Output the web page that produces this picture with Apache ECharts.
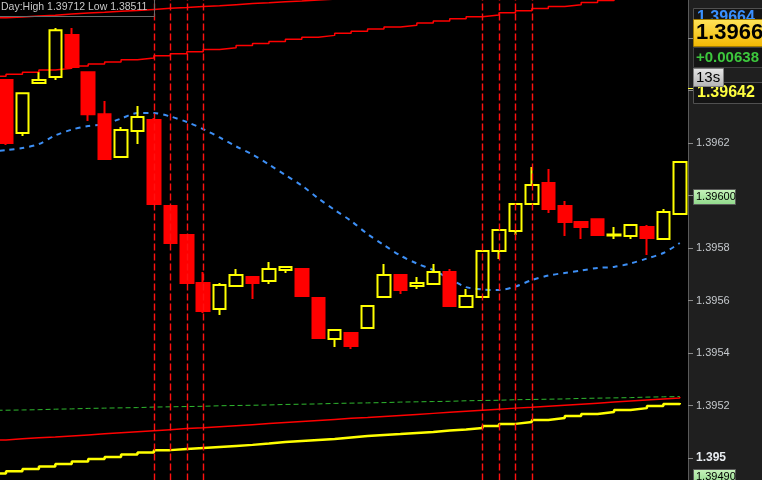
<!DOCTYPE html>
<html><head><meta charset="utf-8">
<script src="https://cdn.jsdelivr.net/npm/echarts@6/dist/echarts.min.js"></script>
<style>html,body{margin:0;padding:0;background:#1f1f1f}#c{width:762px;height:480px}</style>
</head><body><div id="c"></div>
<script>
// bar ids (first one is the bar just left of the visible area)
const categories = ['0','1','2','3','4','5','6','7','8','9','10','11','12','13','14','15','16','17','18','19','20','21','22','23','24','25','26','27','28','29','30','31','32','33','34','35','36','37','38','39','40','41','42'];

// [open, close, low, high]
const candleOHLC = [
 '-',
 [1.396440,1.396200,1.396192,1.396444],
 [1.396238,1.396390,1.396227,1.396390],
 [1.396429,1.396440,1.396429,1.396470],
 [1.396451,1.396630,1.396440,1.396638],
 [1.396611,1.396490,1.396486,1.396638],
 [1.396470,1.396310,1.396284,1.396470],
 [1.396310,1.396139,1.396135,1.396360],
 [1.396147,1.396250,1.396147,1.396261],
 [1.396246,1.396299,1.396196,1.396341],
 [1.396288,1.395968,1.395964,1.396295],
 [1.395960,1.395819,1.395819,1.395960],
 [1.395850,1.395667,1.395667,1.395850],
 [1.395667,1.395560,1.395552,1.395709],
 [1.395568,1.395659,1.395545,1.395667],
 [1.395655,1.395697,1.395655,1.395720],
 [1.395690,1.395667,1.395606,1.395690],
 [1.395674,1.395720,1.395663,1.395747],
 [1.395716,1.395728,1.395705,1.395728],
 [1.395720,1.395617,1.395617,1.395720],
 [1.395610,1.395457,1.395457,1.395610],
 [1.395453,1.395488,1.395423,1.395488],
 [1.395476,1.395427,1.395415,1.395476],
 [1.395495,1.395579,1.395495,1.395579],
 [1.395613,1.395697,1.395613,1.395739],
 [1.395697,1.395640,1.395625,1.395697],
 [1.395655,1.395667,1.395644,1.395690],
 [1.395663,1.395709,1.395663,1.395739],
 [1.395709,1.395579,1.395579,1.395720],
 [1.395575,1.395617,1.395575,1.395644],
 [1.395613,1.395789,1.395613,1.395789],
 [1.395789,1.395869,1.395758,1.395869],
 [1.395865,1.395968,1.395850,1.395968],
 [1.395968,1.396040,1.395968,1.396109],
 [1.396048,1.395949,1.395933,1.396101],
 [1.395960,1.395899,1.395846,1.395979],
 [1.395899,1.395880,1.395834,1.395899],
 [1.395910,1.395850,1.395850,1.395910],
 [1.395848,1.395851,1.395834,1.395880],
 [1.395846,1.395888,1.395834,1.395888],
 [1.395880,1.395838,1.395773,1.395888],
 [1.395834,1.395937,1.395834,1.395949],
 [1.395930,1.396128,1.395930,1.396128]
];

// short moving average (blue dashed)
const maShort = [1.396166,1.396173,1.396181,1.396196,1.396229,1.396251,1.396265,1.396272,1.396293,1.396314,1.396314,1.396301,1.396280,1.396253,1.396221,1.396187,1.396156,1.396118,1.396078,1.396038,1.395989,1.395945,1.395903,1.395853,1.395811,1.395771,1.395741,1.395716,1.395682,1.395651,1.395642,1.395640,1.395653,1.395678,1.395695,1.395705,1.395714,1.395724,1.395728,1.395741,1.395760,1.395781,1.395819];

// upper red lines
const redTop = [1.396677,1.396680,1.396684,1.396687,1.396691,1.396695,1.396698,1.396702,1.396705,1.396709,1.396713,1.396716,1.396720,1.396723,1.396727,1.396731,1.396734,1.396738,1.396741,1.396745,1.396748,1.396752,1.396755,1.396759,1.396763,'-','-','-','-','-','-','-','-','-','-','-','-','-','-','-','-','-','-'];
const redUpper = [1.396454,1.396462,1.396470,1.396478,1.396485,1.396493,1.396501,1.396509,1.396517,1.396524,1.396532,1.396540,1.396548,1.396556,1.396563,1.396571,1.396579,1.396587,1.396595,1.396603,1.396610,1.396618,1.396626,1.396634,1.396642,1.396649,1.396657,1.396665,1.396673,1.396681,1.396688,1.396696,1.396704,1.396712,1.396720,1.396727,1.396735,1.396743,1.396751,1.396759,1.396766,1.396774,1.396782];

// lower long averages
const greenLong = [1.395182,1.395183,1.395184,1.395186,1.395187,1.395189,1.395190,1.395191,1.395192,1.395194,1.395195,1.395196,1.395197,1.395199,1.395200,1.395201,1.395202,1.395204,1.395205,1.395206,1.395208,1.395209,1.395210,1.395211,1.395213,1.395214,1.395215,1.395216,1.395218,1.395219,1.395220,1.395222,1.395223,1.395224,1.395225,1.395227,1.395228,1.395229,1.395230,1.395232,1.395233,1.395234,1.395236];
const redLower = [1.395069,1.395073,1.395077,1.395080,1.395084,1.395088,1.395092,1.395096,1.395100,1.395104,1.395108,1.395112,1.395115,1.395119,1.395123,1.395127,1.395131,1.395135,1.395139,1.395143,1.395147,1.395151,1.395154,1.395158,1.395162,1.395166,1.395170,1.395174,1.395178,1.395182,1.395186,1.395190,1.395193,1.395197,1.395201,1.395205,1.395209,1.395213,1.395217,1.395221,1.395225,1.395229,1.395232];
const yellowLong = [1.394941,1.394950,1.394958,1.394968,1.394977,1.394987,1.394996,1.395004,1.395013,1.395021,1.395030,1.395034,1.395038,1.395042,1.395046,1.395050,1.395055,1.395061,1.395065,1.395069,1.395072,1.395078,1.395084,1.395088,1.395091,1.395095,1.395099,1.395105,1.395109,1.395114,1.395122,1.395130,1.395137,1.395145,1.395152,1.395160,1.395168,1.395175,1.395183,1.395190,1.395198,1.395206,1.395210];

// vertical session markers
const markedBars = ['10','11','12','13','30','31','32','33'];

// y axis range / ticks
const yMin = 1.3948, yMax = 1.3968, yStep = 0.0002;

// right panel tags
const headerText = 'Day:High 1.39712 Low 1.38511';
const bidTag = '1.39664', bigPrice = '1.3966', changeTag = '+0.00638', timerTag = '13s', lastTag = '1.39642';
const levelTags = ['1.39600', '1.39490'];

const chart = echarts.init(document.getElementById('c'), null, {renderer: 'canvas'});

function lineS(data, color, width, type, step, z) {
  return {type: 'line', data, showSymbol: false, symbol: 'none', silent: true, step: step,
    lineStyle: {color, width, type}, z: z || 2, animation: false};
}

const greenGrad = new echarts.graphic.LinearGradient(0,0,0,1,[{offset:0,color:'#c8f4bc'},{offset:1,color:'#8fd88a'}]);

chart.setOption({
  backgroundColor: '#1f1f1f',
  animation: false,
  grid: {left: -18.63, right: 74, top: -14.5, bottom: -30.5, containLabel: false, outerBoundsMode: 'none',
    show: true, backgroundColor: '#000000', borderWidth: 0},
  xAxis: {type: 'category', data: categories, boundaryGap: true, show: false},
  yAxis: {type: 'value', position: 'right', min: yMin, max: yMax, interval: yStep,
    splitLine: {show: false},
    axisLine: {show: true, lineStyle: {color: '#5a5a5a', width: 1}},
    axisTick: {show: true, length: 5, lineStyle: {color: '#8a8a8a'}},
    axisLabel: {margin: 8, color: '#c4c8cc', fontSize: 11, fontFamily: 'Arial',
      formatter: v => { const s = (Math.round(v*1e4)/1e4).toFixed(4); return s === '1.3950' ? '{b|1.395}' : s; },
      rich: {b: {color: '#e8ecf0', fontSize: 12, fontWeight: 'bold', fontFamily: 'Arial'}}}
  },
  series: [
    lineS(yellowLong, '#ffff00', 2.5, 'solid', 'end', 2),
    lineS(redLower, '#ff0000', 1.5, 'solid', 'end', 2),
    lineS(greenLong, '#2fb82f', 1, [5,3], 'end', 2),
    lineS(redUpper, '#ff0000', 1.5, 'solid', 'end', 2),
    lineS(redTop, '#ff0000', 1.5, 'solid', 'end', 2),
    Object.assign(lineS(maShort, '#3d8ff5', 2, [5,5], false, 2), {smooth: 0.3}),
    {type: 'candlestick', data: candleOHLC, barWidth: 13, silent: true, z: 3,
      itemStyle: {color: 'rgba(0,0,0,0)', borderColor: '#ffff00', color0: '#ff0000', borderColor0: '#ff0000', borderWidth: 2},
      markLine: {silent: true, symbol: 'none', label: {show: false}, animation: false,
        lineStyle: {color: '#ff1010', width: 1.4, type: [7,3]},
        data: markedBars.map(b => ({xAxis: b}))}
    }
  ],
  graphic: [
    {type: 'rect', z: 100, shape: {x: -1, y: -1, width: 155.5, height: 17.5}, style: {fill: 'none', stroke: '#6a6a6a', lineWidth: 1}},
    {type: 'text', z: 101, x: 1, y: 2, style: {text: headerText, fill: '#c8c8c8', font: '10.5px Arial'}},

    {type: 'rect', z: 100, shape: {x: 693.5, y: 8.5, width: 70, height: 20}, style: {fill: '#151515', stroke: '#505050', lineWidth: 1}},
    {type: 'text', z: 101, x: 697, y: 10, style: {text: bidTag, fill: '#3a90ff', font: 'bold 16px Arial'}},

    {type: 'rect', z: 110, shape: {x: 693.5, y: 19.5, width: 70, height: 27}, style: {fill: new echarts.graphic.LinearGradient(0,0,0,1,[{offset:0,color:'#ffe45a'},{offset:1,color:'#f2b600'}]), stroke: '#a07a00', lineWidth: 1}},
    {type: 'text', z: 111, x: 696, y: 22, style: {text: bigPrice, fill: '#000000', font: 'bold 22px Arial'}},

    {type: 'rect', z: 110, shape: {x: 693.5, y: 47.5, width: 70, height: 20}, style: {fill: '#141414', stroke: '#404040', lineWidth: 1}},
    {type: 'text', z: 111, x: 696, y: 50, style: {text: changeTag, fill: '#3dc83d', font: 'bold 15px Arial'}},

    {type: 'rect', z: 110, shape: {x: 693.5, y: 82.5, width: 70, height: 21}, style: {fill: '#141414', stroke: '#505050', lineWidth: 1}},
    {type: 'text', z: 111, x: 697, y: 85, style: {text: lastTag, fill: '#ffff40', font: 'bold 16px Arial'}},
    {type: 'line', z: 111, shape: {x1: 688, y1: 88.5, x2: 693, y2: 88.5}, style: {stroke: '#ffff40', lineWidth: 1}},

    {type: 'rect', z: 120, shape: {x: 693.5, y: 68.5, width: 30, height: 18}, style: {fill: new echarts.graphic.LinearGradient(0,0,0,1,[{offset:0,color:'#e8e8e8'},{offset:1,color:'#b4b4b4'}]), stroke: '#808080', lineWidth: 1}},
    {type: 'text', z: 121, x: 696, y: 70, style: {text: timerTag, fill: '#000000', font: '15px Arial'}},

    {type: 'rect', z: 110, shape: {x: 693.5, y: 189.5, width: 42, height: 15}, style: {fill: greenGrad, stroke: '#5a5a5a', lineWidth: 1}},
    {type: 'text', z: 111, x: 696, y: 191, style: {text: levelTags[0], fill: '#000000', font: '11px Arial'}},
    {type: 'rect', z: 110, shape: {x: 693.5, y: 469.5, width: 42, height: 15}, style: {fill: greenGrad, stroke: '#5a5a5a', lineWidth: 1}},
    {type: 'text', z: 111, x: 696, y: 471, style: {text: levelTags[1], fill: '#000000', font: '11px Arial'}}
  ]
});
</script>
</body></html>
